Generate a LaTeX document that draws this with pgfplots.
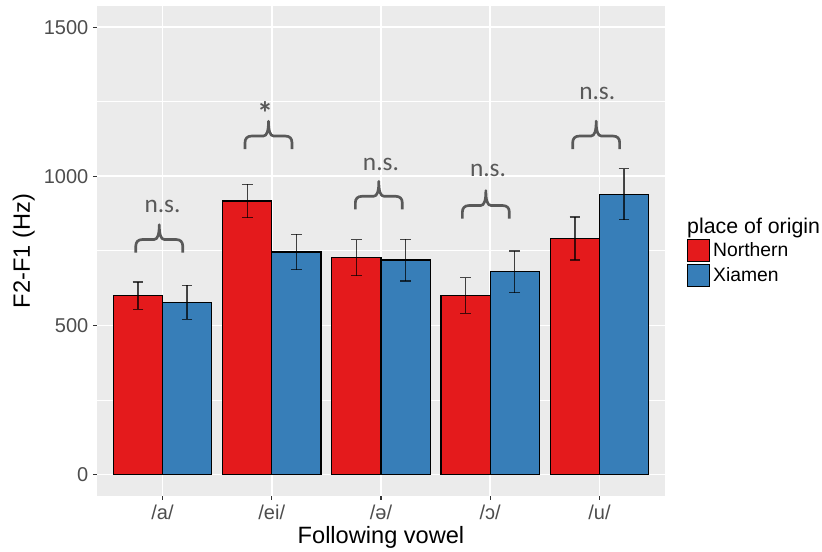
\documentclass[border=0pt]{standalone}
\usepackage{fontspec}
\setmainfont{Liberation Sans}
\newfontfamily\calib{Carlito}
\usepackage{pgfplots}
\pgfplotsset{compat=1.18}
\definecolor{ggbg}{HTML}{EBEBEB}
\definecolor{ggred}{HTML}{E41A1C}
\definecolor{ggblue}{HTML}{377EB8}
\definecolor{tickgrey}{HTML}{4D4D4D}
\definecolor{tickmark}{HTML}{333333}
\definecolor{anngrey}{HTML}{595959}
\newcommand{\fs}[1]{\fontsize{#1}{#1}\selectfont}
\newcommand{\mybrace}[2]{%
  \draw[anngrey, line width=2pt, line cap=butt, line join=round]
    (axis cs:#1,#2) ++(-17.6pt,0pt) -- ++(0pt,5pt)
    .. controls +(0pt,3pt) and +(-3pt,0pt) .. ++(4.8pt,4.8pt)
    -- ++(8.8pt,0pt)
    .. controls +(3pt,0pt) and +(0pt,-7pt) .. ++(4pt,11.2pt)
    .. controls +(0pt,-7pt) and +(-3pt,0pt) .. ++(4pt,-11.2pt)
    -- ++(8.8pt,0pt)
    .. controls +(3pt,0pt) and +(0pt,3pt) .. ++(4.8pt,-4.8pt)
    -- ++(0pt,-5pt);}
\begin{document}
\begin{tikzpicture}
\begin{axis}[
  scale only axis, width=426pt, height=367.5pt,
  xmin=0.4, xmax=5.6, ymin=-72, ymax=1571,
  ybar=0pt, bar width=0.45,
  clip=false,
  xtick={1,2,3,4,5}, xticklabels={/a/,/ei/,/ə/,/ɔ/,/u/},
  ytick={0,500,1000,1500}, minor ytick={250,750,1250},
  yticklabel style={/pgf/number format/1000 sep={}},
  axis x line*=bottom, axis y line*=left, axis line style={draw=none},
  tick align=outside, major tick length=3pt, minor tick length=0pt,
  every tick/.style={tickmark, line width=0.8pt},
  grid=both,
  major grid style={white, line width=1.2pt},
  minor grid style={white, line width=0.6pt},
  axis background/.style={fill=ggbg},
  tick label style={font=\fs{15}, text=tickgrey},
  /pgf/number format/assume math mode=true,
  xlabel={Following vowel}, ylabel={F2-F1 (Hz)},
  label style={font=\fs{17.7}},
  xlabel style={at={(axis description cs:0.5,-0.0837)}, anchor=center},
  ylabel style={at={(axis description cs:-0.129,0.5)}, anchor=center},
  legend style={at={(axis description cs:1.0387,0.5245)}, anchor=north west,
    draw=none, fill=none, inner sep=0pt, font=\fs{14.5}, row sep=1pt},
  legend cell align=left,
  legend image code/.code={\draw[#1, line width=0.9pt] (0pt,-8.25pt) rectangle (16.5pt,8.25pt);},
]
\addplot[fill=ggred, draw=black, line width=0.9pt, bar shift=-0.225,
  error bars/.cd, y dir=both, y explicit,
  error bar style={line width=1pt, black, opacity=0.7},
  error mark options={rotate=90, mark size=4pt, line width=1pt, black, opacity=0.7}]
  coordinates {(1,600) +- (0,46) (2,917) +- (0,56) (3,727) +- (0,60) (4,600) +- (0,60) (5,791) +- (0,72)};
\addlegendentry{Northern}
\addplot[fill=ggblue, draw=black, line width=0.9pt, bar shift=0.225,
  error bars/.cd, y dir=both, y explicit,
  error bar style={line width=1pt, black, opacity=0.7},
  error mark options={rotate=90, mark size=4pt, line width=1pt, black, opacity=0.7}]
  coordinates {(1,577) +- (0,57) (2,746) +- (0,59) (3,719) +- (0,70) (4,680) +- (0,70) (5,940) +- (0,85)};
\addlegendentry{Xiamen}
\mybrace{0.97}{744}
\mybrace{1.97}{1091}
\mybrace{2.98}{889}
\mybrace{3.96}{858}
\mybrace{4.97}{1091}
\node[anchor=base, font=\calib\fs{19}, text=anngrey] at (axis cs:1.0,877) {n.s.};
\node[anchor=north, inner sep=0pt, font=\calib\bfseries\fs{24}, text=anngrey] at (axis cs:1.94,1251) {*};
\node[anchor=base, font=\calib\fs{19}, text=anngrey] at (axis cs:3.0,1020) {n.s.};
\node[anchor=base, font=\calib\fs{19}, text=anngrey] at (axis cs:3.98,1000) {n.s.};
\node[anchor=base, font=\calib\fs{19}, text=anngrey] at (axis cs:4.98,1257) {n.s.};
\node[anchor=base west, font=\fs{16}, inner sep=0pt] at (axis description cs:1.0387,0.5367) {place of origin};
\end{axis}
\pgfresetboundingbox
\path (-72.75pt,-42pt) rectangle (543.75pt,372pt);
\end{tikzpicture}
\end{document}
